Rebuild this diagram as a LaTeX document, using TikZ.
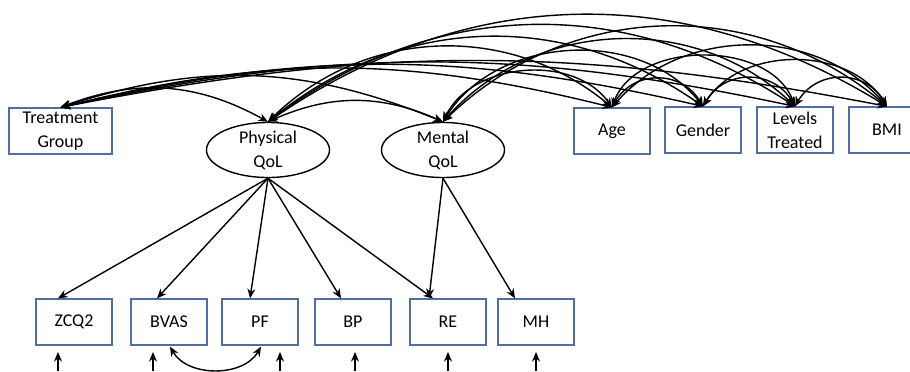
\documentclass[tikz,border=0pt]{standalone}
\usepackage{fontspec}
\setmainfont{Carlito}
\usepackage{tikz}
\usetikzlibrary{arrows.meta,shapes,positioning,calc}
\definecolor{boxblue}{RGB}{80,110,160}

\tikzset{
    var/.style={rectangle, draw=boxblue, line width=0.9pt, minimum width=1.9cm, minimum height=1.15cm, inner sep=0pt, align=center, font=\fontsize{12.8}{17}\selectfont},
    latent/.style={ellipse, draw, line width=1pt, minimum width=3.075cm, minimum height=1.375cm, inner xsep=0pt, inner ysep=-2pt, align=center, font=\fontsize{12.8}{17}\selectfont},
    loading/.style={-{Stealth[length=2.4mm,width=2mm]}, line width=1pt},
    corr/.style={{Stealth[length=2.4mm,width=2mm]}-{Stealth[length=2.4mm,width=2mm]}, line width=1pt}
}

\begin{document}
\begin{tikzpicture}[x=0.025cm,y=0.025cm]
            \useasboundingbox (0,0) rectangle (910,-371);
            % top row
            \node[var, minimum width=2.575cm] (tg) at (60.5,-131) {Treatment\\Group};
            \node[latent] (phys) at (268,-150) {Physical\\QoL};
            \node[latent] (ment) at (443,-150) {Mental\\QoL};
            \node[var] (age) at (612,-131) {Age};
            \node[var] (gender) at (703,-130) {Gender};
            \node[var] (levels) at (795,-130) {Levels\\Treated};
            \node[var] (bmi) at (887,-130) {BMI};
            % indicators
            \node[var] (zcq) at (74,-322) {ZCQ2};
            \node[var] (bvas) at (169,-322) {BVAS};
            \node[var] (pf) at (260,-322) {PF};
            \node[var] (bp) at (353,-322) {BP};
            \node[var] (re) at (448,-322) {RE};
            \node[var] (mh) at (536,-322) {MH};
            % covariances
            \draw[corr] (tg.north) to[bend left=25] (phys.north);
            \draw[corr] (tg.north) to[bend left=20] (ment.north);
            \draw[corr] (tg.north) to[bend left=14] (age.north);
            \draw[corr] (tg.north) to[bend left=13] (gender.north);
            \draw[corr] (tg.north) to[bend left=12] (levels.north);
            \draw[corr] (tg.north) to[bend left=11] (bmi.north);
            \draw[corr] (phys.north) to[bend left=24] (ment.north);
            \draw[corr] (phys.north) to[bend left=42] (age.north);
            \draw[corr] (phys.north) to[bend left=37] (gender.north);
            \draw[corr] (phys.north) to[bend left=35] (levels.north);
            \draw[corr] (phys.north) to[bend left=33] (bmi.north);
            \draw[corr] (ment.north) to[bend left=60] (age.north);
            \draw[corr] (ment.north) to[bend left=55] (gender.north);
            \draw[corr] (ment.north) to[bend left=46] (levels.north);
            \draw[corr] (ment.north) to[bend left=42] (bmi.north);
            \draw[corr] (age.north) to[bend left=60, looseness=1.2] (gender.north);
            \draw[corr] (age.north) to[bend left=70] (levels.north);
            \draw[corr] (age.north) to[bend left=49] (bmi.north);
            \draw[corr] (gender.north) to[bend left=60, looseness=1.2] (levels.north);
            \draw[corr] (gender.north) to[bend left=58] (bmi.north);
            \draw[corr] (levels.north) to[bend left=60, looseness=1.2] (bmi.north);
            % loadings
            \draw[loading] (phys.south) -- ($(zcq.north)+(-16,0)$);
            \draw[loading] (phys.south) -- ($(bvas.north)+(-12,0)$);
            \draw[loading] (phys.south) -- ($(pf.north)+(-10,0)$);
            \draw[loading] (phys.south) -- ($(bp.north)+(-12,0)$);
            \draw[loading] (phys.south) -- ($(re.north)+(-15,0)$);
            \draw[loading] (ment.south) -- ($(re.north)+(-19,0)$);
            \draw[loading] (ment.south) -- ($(mh.north)+(-21,0)$);
            % errors
            \coordinate (e1) at (58,-371);
            \coordinate (e2) at (153,-371);
            \coordinate (e3) at (280,-371);
            \coordinate (e4) at (355,-371);
            \coordinate (e5) at (448,-371);
            \coordinate (e6) at (536,-371);
            \draw[loading] (e1) -- ++(0,19);
            \draw[loading] (e2) -- ++(0,19);
            \draw[loading] (e3) -- ++(0,19);
            \draw[loading] (e4) -- ++(0,19);
            \draw[loading] (e5) -- ++(0,19);
            \draw[loading] (e6) -- ++(0,19);
            \draw[corr] ($(bvas.south)+(1,-1)$) to[out=-60, in=-120] ($(pf.south)+(1,-1)$);
        \end{tikzpicture}
\end{document}
